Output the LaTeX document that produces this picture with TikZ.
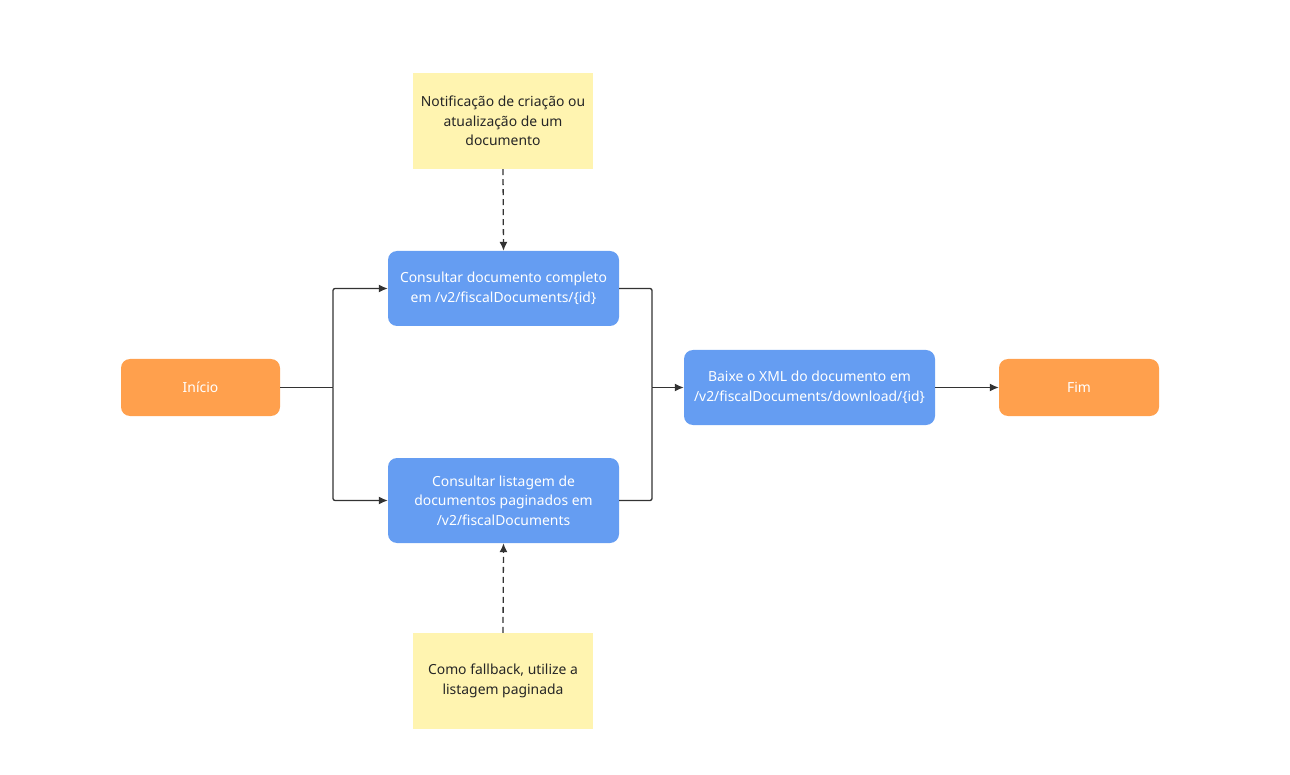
\documentclass[tikz,border=0pt]{standalone}
\usepackage{fontspec}
\setmainfont{Noto Sans}
\usetikzlibrary{arrows.meta}
\definecolor{orangeN}{HTML}{FFA04D}
\definecolor{blueN}{HTML}{659DF2}
\definecolor{yellowN}{HTML}{FFF4B0}
\definecolor{lineN}{HTML}{333333}
\tikzset{
  base/.style={font=\fontsize{13.9}{19.5}\selectfont, align=center, inner sep=0pt},
  term/.style={base, fill=orangeN, text=white, rounded corners=9pt, minimum width=159pt, minimum height=57pt},
  proc/.style={base, fill=blueN, text=white, rounded corners=9pt, minimum width=231pt, minimum height=75pt},
  note/.style={base, fill=yellowN, text=black!85, minimum width=180pt, minimum height=96pt},
  conn/.style={draw=lineN, line width=1.3pt, rounded corners=2pt},
  arr/.style={conn, -{Latex[length=9pt,width=8pt]}},
  darr/.style={arr, dash pattern=on 6pt off 4pt}
}
\begin{document}
\begin{tikzpicture}[x=1pt,y=-1pt]
\useasboundingbox (0,0) rectangle (1290,775);
\node[term] (ini) at (200.5,387.5) {Início};
\node[proc] (top) at (503.5,288.5) {Consultar documento completo\\em /v2/fiscalDocuments/\{id\}};
\node[proc, minimum height=85pt] (bot) at (503.5,500.5) {Consultar listagem de\\documentos paginados em\\/v2/fiscalDocuments};
\node[proc, minimum width=251pt] (xml) at (809.5,387.5) {Baixe o XML do documento em\\/v2/fiscalDocuments/download/\{id\}};
\node[term, minimum width=160pt] (fim) at (1079,387.5) {Fim};
\node[note] (n1) at (503,121) {Notificação de criação ou\\atualização de um\\documento};
\node[note] (n2) at (503,681) {Como fallback, utilize a\\listagem paginada};
\coordinate (j1) at (333,387.5);
\coordinate (j2) at (652,387.5);
\draw[conn] (ini.east) -- (j1);
\draw[arr] (j1) |- (top.west);
\draw[arr] (j1) |- (bot.west);
\draw[conn] (top.east) -| (j2);
\draw[conn] (bot.east) -| (j2);
\draw[arr] (j2) -- (xml.west);
\draw[arr] (xml.east) -- (fim.west);
\draw[darr] (n1.south) -- (top.north);
\draw[darr] (n2.north) -- (bot.south);
\end{tikzpicture}
\end{document}
